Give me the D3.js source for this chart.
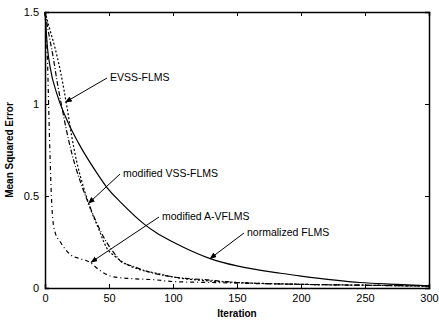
<!DOCTYPE html>
<html>
<head>
<meta charset="utf-8">
<script src="https://cdn.jsdelivr.net/npm/d3@7"></script>
<style>
  body { margin: 0; background: #fff; }
  svg { display: block; font-family: "Liberation Sans", Arial, sans-serif; }
</style>
</head>
<body>
<div id="chart"></div>
<script>
// iteration / value pairs
var normalizedFLMS = [[0,1.5],[2,1.3],[4,1.2],[10,1.04],[18,0.9],[26,0.79],[41,0.62],[48,0.55],[60,0.46],[77,0.35],[87,0.30],[100,0.25],[129,0.16],[150,0.12],[184,0.08],[200,0.065],[246,0.03],[275,0.02],[300,0.012]];
var evssFLMS = [[0,1.5],[4,1.4],[8,1.3],[12,1.18],[17,0.99],[21,0.82],[25,0.68],[30,0.55],[35,0.44],[42,0.32],[48,0.22],[55,0.17],[61,0.14],[74,0.10],[87,0.08],[100,0.06],[125,0.04],[150,0.03],[200,0.02],[250,0.015],[300,0.01]];
var modVSSFLMS = [[0,1.5],[3,1.38],[6,1.27],[10,1.1],[13,0.99],[17,0.85],[21,0.73],[28,0.57],[34,0.46],[40,0.36],[48,0.25],[54,0.19],[60,0.14],[68,0.12],[80,0.09],[100,0.06],[125,0.045],[150,0.03],[200,0.02],[250,0.015],[300,0.01]];
var modAVFLMS = [[0,1.5],[1,1.38],[2,1.22],[3,0.95],[4,0.7],[5,0.5],[6,0.38],[8,0.3],[12,0.25],[16,0.21],[20,0.18],[27,0.16],[35,0.14],[42,0.1],[51,0.065],[60,0.055],[70,0.05],[85,0.045],[100,0.035],[130,0.03],[160,0.025],[200,0.02],[250,0.015],[300,0.012]];
var xTicks = [0, 50, 100, 150, 200, 250, 300];
var yTicks = [0, 0.5, 1, 1.5];

// label text, anchor point of text, arrow tip in data units
var notes = [
  {text: "EVSS-FLMS", tx: 110, ty: 77, at: [16, 1.01]},
  {text: "modified VSS-FLMS", tx: 123, ty: 173, at: [34, 0.46]},
  {text: "modified A-VFLMS", tx: 162, ty: 216, at: [36, 0.14]},
  {text: "normalized FLMS", tx: 247, ty: 232, at: [129, 0.16]}
];

var width = 439, height = 323;
var x0 = 45, x1 = 429, y0 = 288, y1 = 12;

var svg = d3.select("#chart").append("svg")
  .attr("width", width).attr("height", height);

var x = d3.scaleLinear().domain([0, 300]).range([x0, x1]);
var y = d3.scaleLinear().domain([0, 1.5]).range([y0, y1]);

svg.append("defs").append("marker")
  .attr("id", "arr").attr("viewBox", "0 0 10 10")
  .attr("refX", 9).attr("refY", 5)
  .attr("markerWidth", 7).attr("markerHeight", 7)
  .attr("orient", "auto")
  .append("path").attr("d", "M0,1L10,5L0,9z").attr("fill", "#000");

var line = d3.line().x(function(d){ return x(d[0]); }).y(function(d){ return y(d[1]); })
  .curve(d3.curveMonotoneX);

var series = [
  {data: normalizedFLMS, dash: null},
  {data: evssFLMS, dash: "2,2"},
  {data: modVSSFLMS, dash: "5,2,1,2"},
  {data: modAVFLMS, dash: "4,3,1,3"}
];

svg.append("g").selectAll("path").data(series).enter().append("path")
  .attr("d", function(d){ return line(d.data); })
  .attr("fill", "none").attr("stroke", "#000").attr("stroke-width", 1.2)
  .attr("stroke-dasharray", function(d){ return d.dash; });

// axes (matlab style, ticks inward, box)
var xAxis = svg.append("g").attr("transform", "translate(0," + y0 + ")")
  .call(d3.axisBottom(x).tickValues(xTicks).tickSize(-4).tickPadding(6));
var xTop = svg.append("g").attr("transform", "translate(0," + y1 + ")")
  .call(d3.axisTop(x).tickValues(xTicks).tickSize(-4).tickFormat(""));
var yAxis = svg.append("g").attr("transform", "translate(" + x0 + ",0)")
  .call(d3.axisLeft(y).tickValues(yTicks).tickSize(-4).tickPadding(6).tickFormat(d3.format("")));
var yRight = svg.append("g").attr("transform", "translate(" + x1 + ",0)")
  .call(d3.axisRight(y).tickValues(yTicks).tickSize(-4).tickFormat(""));

svg.selectAll(".domain").attr("stroke", "#000").attr("stroke-width", 1.5);
svg.selectAll(".tick line").attr("stroke", "#000");
svg.selectAll(".tick text").attr("font-size", 11).attr("fill", "#000")
  .attr("font-family", "'Liberation Sans', Arial, sans-serif");

svg.append("text").attr("x", (x0 + x1) / 2).attr("y", 317)
  .attr("text-anchor", "middle").attr("font-size", 10).attr("font-weight", "bold")
  .text("Iteration");
svg.append("text").attr("transform", "translate(13," + ((y0 + y1) / 2) + ") rotate(-90)")
  .attr("text-anchor", "middle").attr("font-size", 10).attr("font-weight", "bold")
  .text("Mean Squared Error");

// annotations
var g = svg.append("g");
notes.forEach(function(n) {
  g.append("text").attr("x", n.tx).attr("y", n.ty).attr("dy", "0.35em")
    .attr("font-size", 10.5).text(n.text);
  g.append("line")
    .attr("x1", n.tx - 3).attr("y1", n.ty + 1)
    .attr("x2", x(n.at[0])).attr("y2", y(n.at[1]))
    .attr("stroke", "#000").attr("stroke-width", 1)
    .attr("marker-end", "url(#arr)");
});
</script>
</body>
</html>
